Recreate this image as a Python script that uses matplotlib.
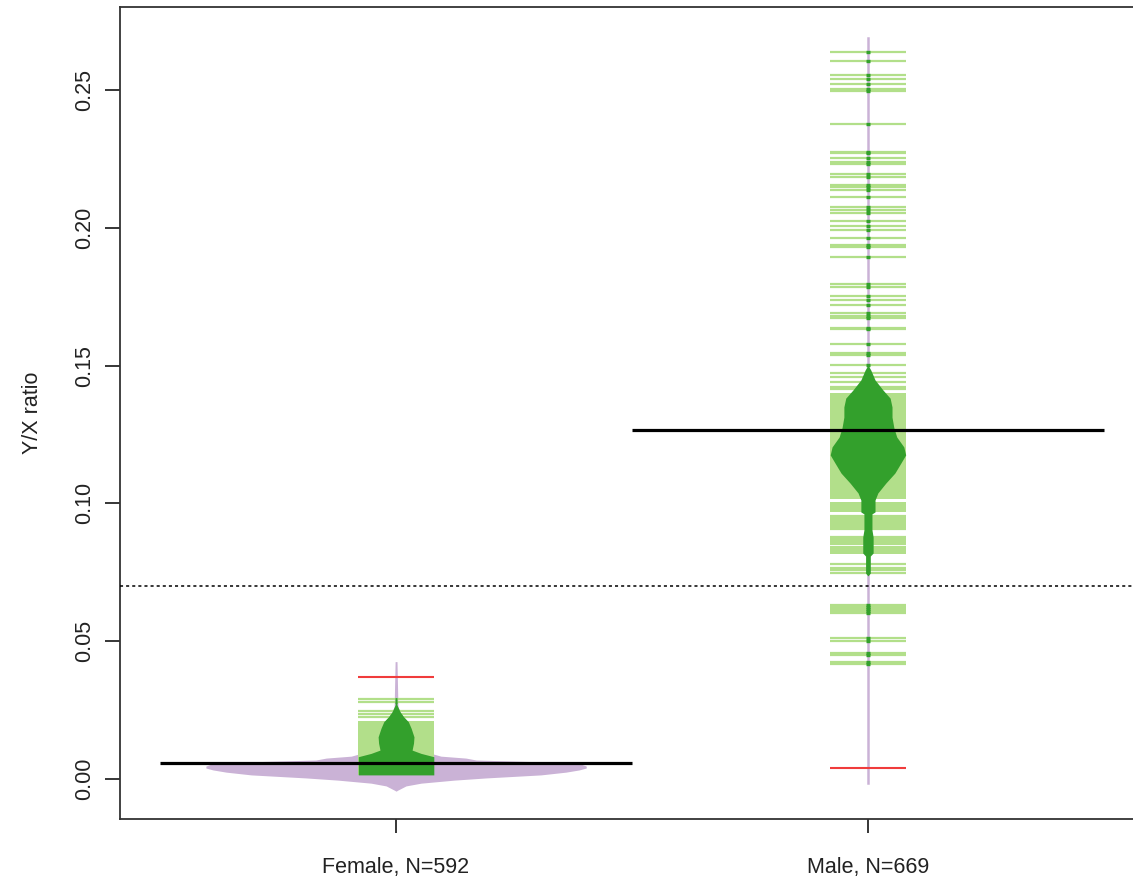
import matplotlib
matplotlib.use("Agg")
import matplotlib.pyplot as plt
import numpy as np

plt.rcParams['font.family'] = ['Liberation Sans', 'DejaVu Sans']

# group labels
groups = ["Female, N=592", "Male, N=669"]

# averages, red marks and cutoff
means = [0.0059, 0.1266]
red_marks = [0.0371, 0.0041]
cutoff = 0.07

# female bean (all samples) - value / half width
fem_purple_y = [0.0426, 0.0262, 0.0244, 0.0214, 0.0142, 0.0098, 0.0083, 0.0076, 0.0069,
                0.0062, 0.0054, 0.0047, 0.0040, 0.0033, 0.0025, 0.0015, 0.0004,
                -0.0004, -0.0015, -0.0025, -0.0040, -0.0044]
fem_purple_w = [0.002, 0.004, 0.0085, 0.021, 0.042, 0.064, 0.095, 0.148, 0.170,
                0.318, 0.392, 0.403, 0.403, 0.388, 0.360, 0.307, 0.191,
                0.123, 0.053, 0.021, 0.004, 0.0]

# female inner bean
fem_green_y = [0.0290, 0.0269, 0.0244, 0.0226, 0.0208, 0.0184, 0.0153, 0.0130, 0.0105,
               0.0093, 0.0081, 0.0015]
fem_green_w = [0.001, 0.002, 0.0085, 0.016, 0.026, 0.032, 0.038, 0.037, 0.034,
               0.053, 0.080, 0.080]

# male inner bean
male_green_y = [0.1499, 0.1484, 0.1448, 0.1411, 0.1382, 0.1350, 0.1313, 0.1274, 0.1241,
                0.1205, 0.1176, 0.1147, 0.1110, 0.1074, 0.1038, 0.1012, 0.0969, 0.0962,
                0.0904, 0.0878, 0.0820, 0.0809, 0.0747, 0.0737]
male_green_w = [0.001, 0.006, 0.015, 0.032, 0.047, 0.051, 0.051, 0.055, 0.061,
                0.076, 0.080, 0.070, 0.057, 0.038, 0.021, 0.015, 0.015, 0.0085,
                0.0085, 0.011, 0.011, 0.005, 0.005, 0.0]

# male bean (all samples) is just a thin stalk
male_purple_range = (-0.0015, 0.269)

# bean lines (single observations) and solid blocks where they overlap
fem_lines = [0.0289, 0.0279, 0.0247, 0.0236, 0.0226]
fem_bands = [(0.0015, 0.0212)]

male_lines = [0.2637, 0.2604, 0.2556, 0.2539, 0.2523, 0.2497, 0.2503, 0.2377,
              0.2270, 0.2276, 0.2252, 0.2231, 0.2237, 0.2195, 0.2185, 0.2155, 0.2147,
              0.2137, 0.2113, 0.2077, 0.2065, 0.2055, 0.2026, 0.2006, 0.1992, 0.1962,
              0.1931, 0.1937, 0.1895, 0.1795, 0.1786, 0.1754, 0.1738, 0.1719, 0.1692,
              0.1681, 0.1672, 0.1632, 0.1638, 0.1578, 0.1538, 0.1544, 0.1502, 0.1472,
              0.1457, 0.1442, 0.1415, 0.1421,
              0.0955, 0.0950, 0.0942, 0.0936, 0.0930, 0.0922, 0.0916, 0.0908,
              0.0879, 0.0873, 0.0867, 0.0860, 0.0853, 0.0780, 0.0767, 0.0758, 0.0749,
              0.0631, 0.0624, 0.0616, 0.0611, 0.0603, 0.0511, 0.0501, 0.0456, 0.0450,
              0.0423, 0.0417]
male_bands = [(0.1015, 0.1400), (0.0970, 0.1006), (0.0815, 0.0845)]

purple = '#CAB2D6'
light_green = '#B2DF8A'
dark_green = '#33A02C'
red = '#F03C3C'
line_w = 0.08

fig = plt.figure(figsize=(11.33, 8.83), dpi=100)
ax = fig.add_axes([120 / 1133, 64 / 883, 1024 / 1133, 812 / 883])
ax.set_xlim(0.415, 2.585)
ax.set_ylim(-0.0145, 0.2801)

# female
x0 = 1
fy = np.array(fem_purple_y)
fw = np.array(fem_purple_w)
ax.fill_betweenx(fy, x0 - fw, x0 + fw, color=purple, lw=0, zorder=1)
for lo, hi in fem_bands:
    ax.fill_between([x0 - line_w, x0 + line_w], lo, hi, color=light_green, lw=0, zorder=2)
for v in fem_lines:
    ax.plot([x0 - line_w, x0 + line_w], [v, v], color=light_green, lw=1.6, zorder=2,
            solid_capstyle='butt')
gy = np.array(fem_green_y)
gw = np.array(fem_green_w)
ax.fill_betweenx(gy, x0 - gw, x0 + gw, color=dark_green, lw=0, zorder=3)
for v in fem_lines[:2]:
    ax.plot([x0 - 0.003, x0 + 0.003], [v, v], color=dark_green, lw=2, zorder=4,
            solid_capstyle='butt')

# male
x1 = 2
for lo, hi in male_bands:
    ax.fill_between([x1 - line_w, x1 + line_w], lo, hi, color=light_green, lw=0, zorder=2)
for v in male_lines:
    ax.plot([x1 - line_w, x1 + line_w], [v, v], color=light_green, lw=1.6, zorder=2,
            solid_capstyle='butt')
ax.plot([x1, x1], male_purple_range, color=purple, lw=1.8, zorder=3)
my = np.array(male_green_y)
mw = np.array(male_green_w)
ax.fill_betweenx(my, x1 - mw, x1 + mw, color=dark_green, lw=0, zorder=3)
for v in male_lines:
    if v > 0.1499 or v < 0.0737:
        ax.plot([x1 - 0.0045, x1 + 0.0045], [v, v], color=dark_green, lw=2.4, zorder=4,
                solid_capstyle='butt')

# red marks and averages
for x, v in zip([x0, x1], red_marks):
    ax.plot([x - line_w, x + line_w], [v, v], color=red, lw=1.5, zorder=5,
            solid_capstyle='butt')
for x, m in zip([x0, x1], means):
    ax.plot([x - 0.5, x + 0.5], [m, m], color='black', lw=2.3, zorder=5,
            solid_capstyle='butt')

ax.axhline(cutoff, color='black', lw=1.1, linestyle=(0, (2, 2)), zorder=5)

ax.set_xticks([x0, x1])
ax.set_xticklabels(groups, fontsize=15.5, color='#222222')
ax.set_yticks([0, 0.05, 0.10, 0.15, 0.20, 0.25])
ax.set_yticklabels(['0.00', '0.05', '0.10', '0.15', '0.20', '0.25'], rotation=90,
                   va='center', fontsize=15.5, color='#222222')
ax.tick_params(axis='y', length=11, width=1.1, pad=7)
ax.tick_params(axis='x', length=10, width=1.1, pad=17)
ax.set_ylabel('Y/X ratio', fontsize=15.5, color='#222222', labelpad=22)
for s in ['left', 'bottom', 'top']:
    ax.spines[s].set_linewidth(1.3)
    ax.spines[s].set_color('#333333')
ax.spines['right'].set_visible(False)

fig.savefig('out.png', dpi=100)
